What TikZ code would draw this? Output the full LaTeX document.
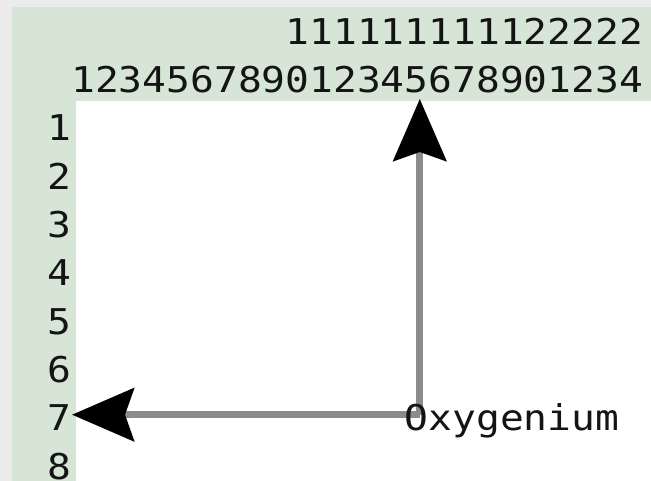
\documentclass[tikz,border=0pt]{standalone}
\usepackage{fontspec}
\newfontfamily\gridfont[FakeStretch=1.115]{DejaVu Sans Mono}
\usetikzlibrary{arrows.meta}
\pgfdeclarelayer{lines}
\pgfsetlayers{lines,main}
\definecolor{outergray}{RGB}{236,236,236}
\definecolor{rulergreen}{RGB}{214,229,214}
\definecolor{linegray}{RGB}{140,140,140}
\definecolor{inkcol}{RGB}{20,20,20}
\tikzset{
  gridtext/.style={anchor=base west, inner sep=0pt, outer sep=0pt, text=inkcol,
    font=\gridfont\fontsize{35.5}{42}\selectfont},
  pointer/.style={draw=linegray, line width=7pt,
    -{Stealth[length=62pt, width=53pt, inset=9pt, black]}}
}
\begin{document}
\begin{tikzpicture}[x=1pt, y=-1pt]
  \begin{pgfonlayer}{lines}
    \useasboundingbox (0,0) rectangle (651,481);
    \fill[outergray] (0,0) rectangle (651,481);
    \fill[rulergreen] (12,7) rectangle (651,481);
    \fill[white] (76,101) rectangle (651,481);
  \end{pgfonlayer}
  % header lines
  \node[gridtext] (h1) at (285.6,44.5) {111111111122222};
  \node[gridtext] (h2) at (71.2,92.8) {123456789012345678901234};
  % row labels
  \foreach \i in {1,...,8} {
    \node[gridtext] (r\i) at (47.3,{140.9+(\i-1)*48.3}) {\i};
  }
  % label
  \node[gridtext] (ox) at (404.8,430.7) {Oxygenium};
  \coordinate (o) at ([xshift=15pt, yshift=16pt]ox.base west);
  \coordinate (topEnd) at (o |- 0,99);
  \coordinate (leftEnd) at (o -| 72,0);
  \begin{pgfonlayer}{lines}
    \draw[pointer] (o) -- (topEnd);
    \draw[pointer] (o) -- (leftEnd);
  \end{pgfonlayer}
\end{tikzpicture}
\end{document}
